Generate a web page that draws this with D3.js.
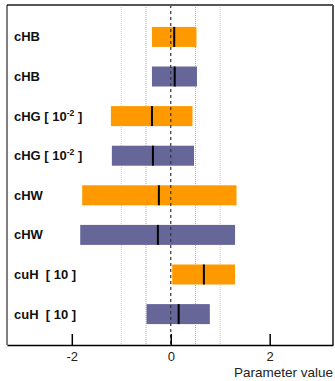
<!DOCTYPE html>
<html>
<head>
<meta charset="utf-8">
<script src="https://cdn.jsdelivr.net/npm/d3@7"></script>
<style>
  body { margin: 0; background: #fff; }
  svg { display: block; font-family: "Liberation Sans", Arial, sans-serif; }
</style>
</head>
<body>
<div id="chart"></div>
<script>
var width = 335, height = 381;

// rows, top to bottom
var labels = ["cHB", "cHB", "cHG", "cHG", "cHW", "cHW", "cuH", "cuH"];
var scales = ["", "", "-2", "-2", "", "", "10", "10"];
var lows = [-0.38, -0.38, -1.21, -1.19, -1.79, -1.83, 0.03, -0.49];
var highs = [0.52, 0.53, 0.44, 0.47, 1.33, 1.30, 1.30, 0.79];
var centers = [0.07, 0.08, -0.38, -0.36, -0.24, -0.26, 0.67, 0.16];
var series = ["a", "b", "a", "b", "a", "b", "a", "b"];
var ticks = [-2, 0, 2];
var grid = [-1, -0.5, 0.5, 1];

var frame = { left: 7, right: 333, top: 5, bottom: 345 };

var x = d3.scaleLinear().domain([-3.31, 3.28]).range([frame.left, frame.right]);
var y = d3.scaleBand().domain(d3.range(labels.length)).range([17, 334]).paddingInner(0.495).paddingOuter(0.25);
var color = d3.scaleOrdinal().domain(["a", "b"]).range(["#ff9900", "#666699"]);

var svg = d3.select("#chart").append("svg")
    .attr("width", width)
    .attr("height", height);

// grid lines
svg.selectAll(".grid")
    .data(grid)
    .enter()
    .append("line")
    .attr("x1", d => x(d)).attr("x2", d => x(d))
    .attr("y1", frame.top).attr("y2", frame.bottom)
    .attr("stroke", d => Math.abs(d) == 0.5 ? "#aaa" : "#ccc")
    .attr("stroke-width", 1)
    .attr("stroke-dasharray", "1,1");

// bars
var rows = svg.selectAll(".row")
    .data(labels)
    .enter()
    .append("g");

rows.append("rect")
    .attr("x", (d, i) => x(lows[i]))
    .attr("width", (d, i) => x(highs[i]) - x(lows[i]))
    .attr("y", (d, i) => y(i))
    .attr("height", y.bandwidth())
    .attr("fill", (d, i) => color(series[i]));

// zero line
svg.append("line")
    .attr("x1", x(0)).attr("x2", x(0))
    .attr("y1", frame.top).attr("y2", frame.bottom)
    .attr("stroke", "#333")
    .attr("stroke-width", 1.2)
    .attr("stroke-dasharray", "3,3");

rows.append("line")
    .attr("x1", (d, i) => x(centers[i])).attr("x2", (d, i) => x(centers[i]))
    .attr("y1", (d, i) => y(i)).attr("y2", (d, i) => y(i) + y.bandwidth())
    .attr("stroke", "#000")
    .attr("stroke-width", 2);

// row labels
var txt = rows.append("text")
    .attr("x", 14)
    .attr("y", (d, i) => y(i) + y.bandwidth() / 2 + 4.5)
    .attr("font-size", 13)
    .attr("font-weight", "bold")
    .attr("fill", "#111")
    .style("white-space", "pre");

txt.each(function (d, i) {
    var t = d3.select(this);
    t.append("tspan").text(d);
    if (scales[i] == "-2") {
        t.append("tspan").text(" [ 10");
        t.append("tspan").text("-2").attr("font-size", 8.5).attr("dy", -5);
        t.append("tspan").text(" ]").attr("dy", 5);
    } else if (scales[i] != "") {
        t.append("tspan").text("  [ " + scales[i] + " ]");
    }
});

// frame
svg.append("line")
    .attr("x1", frame.left).attr("x2", frame.right)
    .attr("y1", frame.top).attr("y2", frame.top)
    .attr("stroke", "#555").attr("stroke-width", 2);
svg.append("line")
    .attr("x1", frame.right).attr("x2", frame.right)
    .attr("y1", frame.top).attr("y2", frame.bottom)
    .attr("stroke", "#555").attr("stroke-width", 2);
svg.append("line")
    .attr("x1", frame.left).attr("x2", frame.left)
    .attr("y1", frame.top).attr("y2", frame.bottom)
    .attr("stroke", "#000").attr("stroke-width", 1);

// x axis
var axis = svg.append("g")
    .attr("transform", "translate(0," + frame.bottom + ")")
    .call(d3.axisBottom(x).tickValues(ticks).tickFormat(d3.format("d"))
        .tickSizeInner(-11).tickSizeOuter(0).tickPadding(7));
axis.select(".domain").attr("stroke", "#000").attr("stroke-width", 1.5);
axis.selectAll(".tick line").attr("stroke-width", 1.5);
axis.selectAll("text")
    .attr("font-size", 13)
    .attr("font-family", "Liberation Sans, Arial, sans-serif")
    .attr("fill", "#222")
    .text(d => d < 0 ? "-" + Math.abs(d) : d);

svg.append("text")
    .attr("x", 333)
    .attr("y", 377)
    .attr("text-anchor", "end")
    .attr("font-size", 13.5)
    .attr("fill", "#222")
    .text("Parameter value");
</script>
</body>
</html>
